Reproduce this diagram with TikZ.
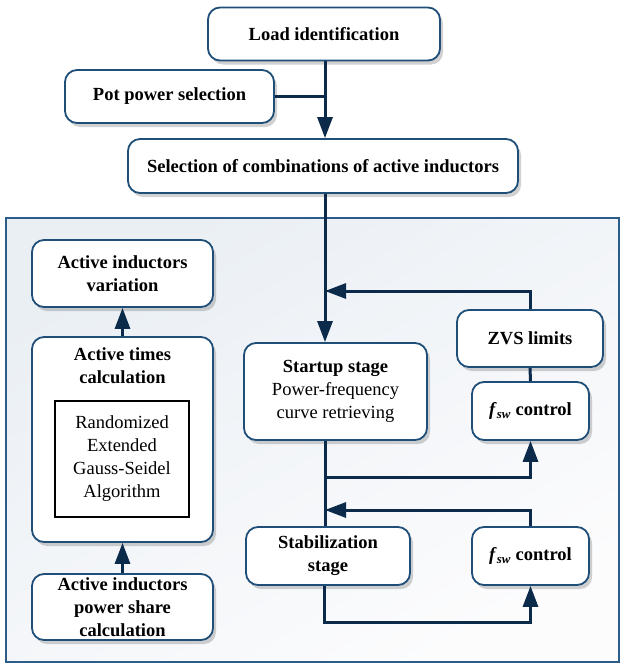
\documentclass[tikz,border=0pt]{standalone}
\usepackage{fontspec}
\setmainfont{Liberation Serif}
\usetikzlibrary{arrows.meta,shadows}
\definecolor{boxc}{RGB}{31,78,121}
\definecolor{linec}{RGB}{12,42,74}
\definecolor{framec}{RGB}{43,92,138}
\definecolor{bgA}{RGB}{234,239,244}
\definecolor{bgB}{RGB}{252,252,253}
\tikzset{
  x=1pt,y=-1pt,
  every node/.style={font=\fontsize{18.5}{23}\selectfont},
  rbox/.style={draw=boxc, line width=1.8pt, fill=white, rounded corners=12pt,
    align=center, inner sep=0pt, font=\fontsize{18.5}{23}\selectfont\bfseries,
    drop shadow={shadow xshift=3pt, shadow yshift=-4pt, opacity=0.3, fill=black!60}},
  conn/.style={draw=linec, line width=3pt},
  arr/.style={conn, -{Triangle[width=15pt,length=21pt]}},
}
\newcommand{\fsw}{\textit{f}\textsubscript{\textit{sw}}}
\begin{document}
\begin{tikzpicture}
\useasboundingbox (0,0) rectangle (622,664);
% frame
\path[draw=framec, line width=2pt, top color=bgA, bottom color=bgB, shading angle=30] (6,218) rectangle (619,662);
% nodes
\node[rbox, minimum width=232pt, minimum height=53pt] (load) at (324,34) {Load identification};
\node[rbox, minimum width=209pt, minimum height=53pt] (pot) at (169.5,96.5) {Pot power selection};
\node[rbox, minimum width=390pt, minimum height=54pt] (sel) at (323,166) {Selection of combinations of active inductors};
\node[rbox, minimum width=181pt, minimum height=67pt] (aiv) at (122.5,273.5) {Active inductors\\variation};
\node[rbox, minimum width=181pt, minimum height=205pt] (atc) at (122.5,439.5) {};
\node[anchor=north, align=center, font=\fontsize{18.5}{23}\selectfont\bfseries] (atct) at (122.5,344) {Active times\\calculation};
\node[draw=black, line width=1.5pt, fill=white, minimum width=134pt, minimum height=116pt, align=center, inner sep=0pt] (alg) at (122,459) {Randomized\\Extended\\Gauss-Seidel\\Algorithm};
\node[rbox, minimum width=181pt, minimum height=66pt] (aps) at (122.5,607) {Active inductors\\power share\\calculation};
\node[rbox, minimum width=183pt, minimum height=97pt] (start) at (335.5,391.5) {Startup stage\\\mdseries Power-frequency\\\mdseries curve retrieving};
\node[rbox, minimum width=146pt, minimum height=57pt] (zvs) at (530,338.5) {ZVS limits};
\node[rbox, minimum width=117pt, minimum height=58pt] (fa) at (530.5,411) {\fsw{} control};
\node[rbox, minimum width=164pt, minimum height=58pt] (stab) at (328,556) {Stabilization\\stage};
\node[rbox, minimum width=117pt, minimum height=58pt] (fb) at (530.5,556) {\fsw{} control};
% coordinates
\coordinate (mainx) at (325,0);
\coordinate (j1) at (325,291);
\coordinate (b1) at (325,477);
\coordinate (j2) at (325,510);
\coordinate (bot) at (324,622);
% connectors
\path[arr] (load.south -| mainx) -- (sel.north -| mainx);
\path[conn] (pot.east) -- (pot.east -| mainx);
\path[arr] (sel.south -| mainx) -- (start.north -| mainx);
\path[arr] (zvs.north) |- (j1);
\path[conn] (zvs.south) -- (fa.north);
\path[conn] (start.south -| mainx) -- (stab.north -| mainx);
\path[arr] (b1) -| (fa.south);
\path[arr] (fb.north) |- (j2);
\path[arr] (stab.south -| bot) |- (bot) -| (fb.south);
\path[arr] (aps.north) -- (atc.south -| aps.north);
\path[arr] (atc.north) -- (aiv.south);
\end{tikzpicture}
\end{document}
